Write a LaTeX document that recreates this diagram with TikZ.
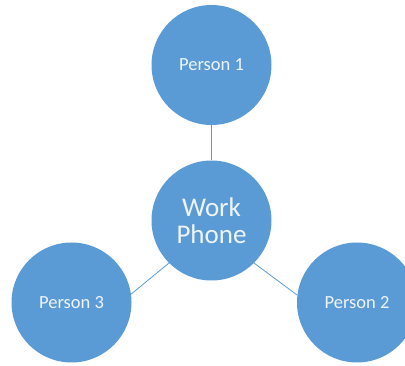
\documentclass[tikz,border=0pt]{standalone}
\usepackage{fontspec}
\setmainfont{Carlito}
\usepackage{xcolor}
\usepackage{tikz}
\usetikzlibrary{positioning}
\definecolor{Bubble}{HTML}{5B9BD5}
\definecolor{Label}{HTML}{EEF4FB}

\begin{document}
\begin{tikzpicture}[
  x=1pt,y=-1pt,
  person/.style={circle,fill=Bubble,draw=none,minimum size=120pt,inner sep=0pt,align=center,text=Label,font=\fontsize{18.5}{22}\selectfont},
  hub/.style={person,font=\fontsize{27}{30}\selectfont},
  link/.style={draw=Bubble,line width=0.8pt}
]
\useasboundingbox (0,0) rectangle (405,366);
\clip (0,0) rectangle (405,366);
\node[person] (p1) at (211.5,65) {Person 1};
\node[hub] (work) at (211.5,220.5) {Work\\[-3pt]Phone};
\node[person] (p3) at (71.5,302.5) {Person 3};
\node[person] (p2) at (357,302.5) {Person 2};
\foreach \x/\y in {p1/work,p3.8/work.225,p2.173/work.-45} \draw[link] (\x) -- (\y);
\end{tikzpicture}
\end{document}
